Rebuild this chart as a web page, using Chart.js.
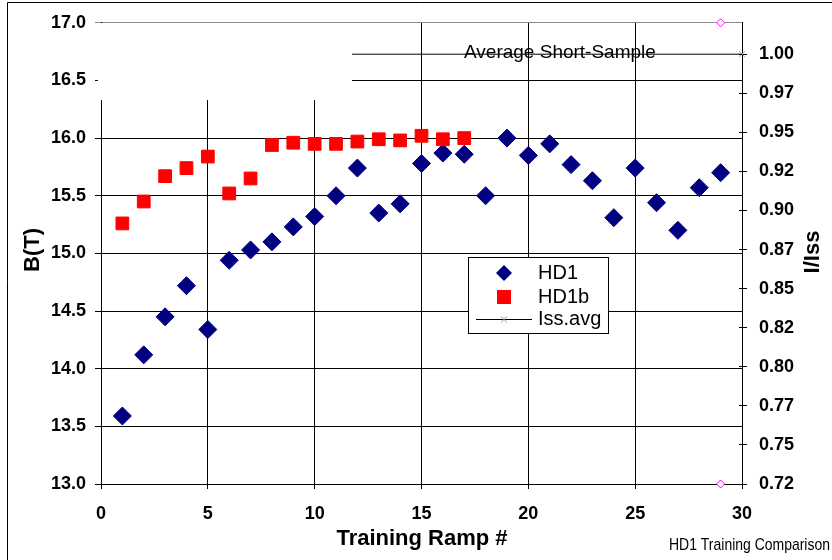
<!DOCTYPE html>
<html>
<head>
<meta charset="utf-8">
<script src="https://cdn.jsdelivr.net/npm/chart.js@4/dist/chart.umd.min.js"></script>
<style>
  html, body { margin: 0; padding: 0; background: #fff; }
  #wrap { width: 832px; height: 560px; position: relative; }
</style>
</head>
<body>
<div id="wrap"><canvas id="c" width="832" height="560"></canvas></div>
<script>
// Training ramp numbers and quench fields (T)
const hd1Ramps = [1, 2, 3, 4, 5, 6, 7, 8, 9, 10, 11, 12, 13, 14, 15, 16, 17, 18, 19, 20, 21, 22, 23, 24, 25, 26, 27, 28, 29];
const hd1Field = [13.59, 14.12, 14.45, 14.72, 14.34, 14.94, 15.03, 15.10, 15.23, 15.32, 15.50, 15.74, 15.35, 15.43, 15.78, 15.87, 15.86, 15.50, 16.00, 15.85, 15.95, 15.77, 15.63, 15.31, 15.74, 15.44, 15.20, 15.57, 15.70];

const hd1bRamps = [1, 2, 3, 4, 5, 6, 7, 8, 9, 10, 11, 12, 13, 14, 15, 16, 17];
const hd1bField = [15.26, 15.45, 15.67, 15.74, 15.84, 15.52, 15.65, 15.94, 15.96, 15.95, 15.95, 15.97, 15.99, 15.98, 16.02, 15.99, 16.00];

// Average short-sample current ratio (right axis)
const issAvgRamps = [0, 30];
const issAvgRatio = [1.00, 1.00];

// Range markers at ramp 29
const markerRamps = [29, 29];
const markerField = [17.0, 13.0];

// Right-axis tick values and their printed labels
const ratioTickValues = [0.725, 0.75, 0.775, 0.80, 0.825, 0.85, 0.875, 0.90, 0.925, 0.95, 0.975, 1.00];
const ratioTickLabels = ['0.72', '0.75', '0.77', '0.80', '0.82', '0.85', '0.87', '0.90', '0.92', '0.95', '0.97', '1.00'];

const FONT = 'Liberation Sans, Arial, sans-serif';
const pts = (xs, ys) => xs.map((x, i) => ({ x: x, y: ys[i] }));

// Draw a text string; optional rotation and optional target width (horizontal squeeze)
function drawText(ctx, s, x, y, font, align, baseline, rot, width) {
  ctx.save();
  ctx.font = font;
  ctx.fillStyle = '#000';
  ctx.textAlign = align;
  ctx.textBaseline = baseline;
  ctx.translate(x, y);
  if (rot) ctx.rotate(rot);
  if (width) {
    const w = ctx.measureText(s).width;
    ctx.scale(width / w, 1);
  }
  ctx.fillText(s, 0, 0);
  ctx.restore();
}

const decorations = {
  id: 'decorations',
  beforeDraw(chart) {
    const ctx = chart.ctx;
    ctx.save();
    ctx.fillStyle = '#fff';
    ctx.fillRect(0, 0, chart.width, chart.height);
    // outer frame
    ctx.strokeStyle = '#000';
    ctx.lineWidth = 1;
    ctx.beginPath();
    ctx.moveTo(7.5, chart.height);
    ctx.lineTo(7.5, 2.5);
    ctx.lineTo(chart.width, 2.5);
    ctx.stroke();
    ctx.restore();
  },
  afterDraw(chart) {
    const ctx = chart.ctx;
    const area = chart.chartArea;
    ctx.save();

    // right-axis tick marks crossing into the plot
    const y2 = chart.scales.y2;
    ctx.strokeStyle = '#000';
    ctx.lineWidth = 1;
    ctx.beginPath();
    y2.ticks.forEach(t => {
      const py = Math.floor(y2.getPixelForValue(t.value)) + 0.5;
      ctx.moveTo(area.right - 3, py);
      ctx.lineTo(area.right, py);
    });
    ctx.stroke();

    // blank text box in the upper left of the plot
    ctx.fillStyle = '#fff';
    ctx.fillRect(98, 23, 254, 77);

    drawText(ctx, 'Average Short-Sample', 464, 53, '19px ' + FONT, 'left', 'middle');

    // axis titles
    drawText(ctx, 'B(T)', 33, 250, 'bold 22px ' + FONT, 'center', 'middle', -Math.PI / 2);
    drawText(ctx, 'I/Iss', 813, 252, 'bold 22px ' + FONT, 'center', 'middle', -Math.PI / 2);
    drawText(ctx, 'Training Ramp #', 422, 539, 'bold 22px ' + FONT, 'center', 'middle');
    drawText(ctx, 'HD1 Training Comparison', 669, 545, '17px ' + FONT, 'left', 'middle', 0, 161);

    // legend
    ctx.fillStyle = '#fff';
    ctx.fillRect(468.5, 257.5, 140, 76);
    ctx.strokeStyle = '#000';
    ctx.lineWidth = 1;
    ctx.strokeRect(468.5, 257.5, 140, 76);

    const ds = chart.data.datasets;
    // HD1 diamond
    ctx.fillStyle = ds[0].backgroundColor;
    ctx.beginPath();
    ctx.moveTo(504, 265); ctx.lineTo(512, 273); ctx.lineTo(504, 281); ctx.lineTo(496, 273);
    ctx.closePath(); ctx.fill();
    // HD1b square
    ctx.fillStyle = ds[1].backgroundColor;
    ctx.fillRect(497, 290, 14, 14);
    // Iss.avg line with cross
    ctx.strokeStyle = ds[2].borderColor;
    ctx.beginPath(); ctx.moveTo(476, 319.5); ctx.lineTo(532, 319.5); ctx.stroke();
    ctx.strokeStyle = ds[2].pointBorderColor;
    ctx.beginPath();
    ctx.moveTo(501, 316.5); ctx.lineTo(507, 322.5);
    ctx.moveTo(507, 316.5); ctx.lineTo(501, 322.5);
    ctx.stroke();

    drawText(ctx, ds[0].label, 538, 273, '20px ' + FONT, 'left', 'middle');
    drawText(ctx, ds[1].label, 538, 297, '20px ' + FONT, 'left', 'middle');
    drawText(ctx, ds[2].label, 538, 319, '20px ' + FONT, 'left', 'middle');
    ctx.restore();
  }
};

new Chart(document.getElementById('c'), {
  type: 'scatter',
  data: {
    datasets: [
      {
        label: 'HD1',
        data: pts(hd1Ramps, hd1Field),
        yAxisID: 'y',
        pointStyle: 'rectRot',
        radius: 9,
        borderWidth: 1,
        backgroundColor: '#000080',
        borderColor: '#000080',
        order: 2,
        clip: false
      },
      {
        label: 'HD1b',
        data: pts(hd1bRamps, hd1bField),
        yAxisID: 'y',
        pointStyle: 'rect',
        radius: 9,
        borderWidth: 1,
        backgroundColor: '#ff0000',
        borderColor: '#ff0000',
        order: 1,
        clip: false
      },
      {
        label: 'Iss.avg',
        data: pts(issAvgRamps, issAvgRatio),
        yAxisID: 'y2',
        showLine: true,
        borderColor: '#000000',
        borderWidth: 1,
        pointStyle: 'crossRot',
        radius: 4,
        pointBorderColor: '#999999',
        pointBackgroundColor: '#999999',
        pointBorderWidth: 1,
        order: 3,
        clip: false
      },
      {
        label: 'range',
        data: pts(markerRamps, markerField),
        yAxisID: 'y',
        pointStyle: 'rectRot',
        radius: 4,
        borderWidth: 1,
        borderColor: '#ff00ff',
        backgroundColor: '#ffffff',
        order: 0,
        clip: false
      }
    ]
  },
  plugins: [decorations],
  options: {
    responsive: false,
    animation: false,
    devicePixelRatio: 1,
    layout: { padding: { top: 21, left: 0, right: 0, bottom: 0 } },
    plugins: { legend: { display: false }, tooltip: { enabled: false } },
    scales: {
      x: {
        type: 'linear',
        min: 0, max: 30,
        afterFit: s => { s.height = 76; },
        ticks: { stepSize: 5, padding: 14, color: '#000', font: { family: FONT, size: 18, weight: 'bold' } },
        grid: { color: '#000', lineWidth: 1, tickLength: 5 },
        border: { color: '#000', width: 1 }
      },
      y: {
        type: 'linear',
        position: 'left',
        min: 13, max: 17,
        afterFit: s => { s.width = 101; },
        ticks: {
          stepSize: 0.5, padding: 9, color: '#000',
          font: { family: FONT, size: 18, weight: 'bold' },
          callback: v => Number(v).toFixed(1)
        },
        grid: {
          color: c => (c.tick && c.tick.value === 17 ? '#8c8c8c' : '#000'),
          lineWidth: 1, tickLength: 6
        },
        border: { color: '#000', width: 1 }
      },
      y2: {
        type: 'linear',
        position: 'right',
        min: 0.725, max: 1.0201,
        afterFit: s => { s.width = 90; },
        afterBuildTicks: s => { s.ticks = ratioTickValues.map(v => ({ value: v })); },
        ticks: {
          padding: 12, color: '#000',
          font: { family: FONT, size: 18, weight: 'bold' },
          callback: (v, i) => ratioTickLabels[i]
        },
        grid: { drawOnChartArea: false, color: '#000', lineWidth: 1, tickLength: 5 },
        border: { color: '#000', width: 1 }
      }
    }
  }
});
</script>
</body>
</html>
